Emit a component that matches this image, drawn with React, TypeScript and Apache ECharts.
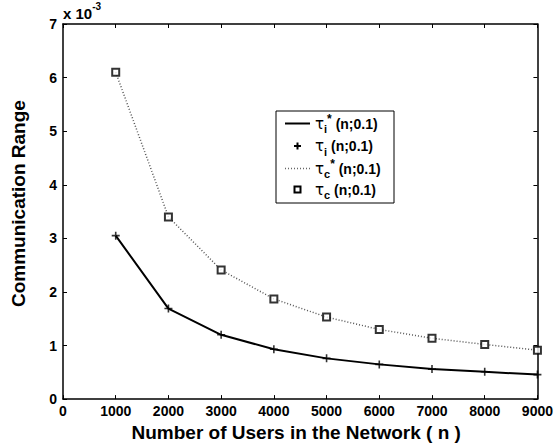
import React, { useEffect, useRef } from "react";
import * as echarts from "echarts";

// values in units of 1e-3
const users = [1000, 2000, 3000, 4000, 5000, 6000, 7000, 8000, 9000];
const tauIStar = [3.05, 1.69, 1.2, 0.93, 0.76, 0.648, 0.56, 0.51, 0.457];
const tauI = [3.05, 1.69, 1.2, 0.93, 0.76, 0.648, 0.56, 0.51, 0.457];
const tauCStar = [6.1, 3.4, 2.41, 1.87, 1.53, 1.3, 1.135, 1.02, 0.913];
const tauC = [6.1, 3.4, 2.41, 1.87, 1.53, 1.3, 1.135, 1.02, 0.913];
const legendLabels = [
  { sub: "i", star: true, rest: " (n;0.1)" },
  { sub: "i", star: false, rest: " (n;0.1)" },
  { sub: "c", star: true, rest: " (n;0.1)" },
  { sub: "c", star: false, rest: " (n;0.1)" },
];

const FONT = "'Liberation Sans', Arial, Helvetica, sans-serif";
const PLUS = "path://M4,0H6V4H10V6H6V10H4V6H0V4H4Z";

export default function App() {
  const ref = useRef<HTMLDivElement>(null);
  useEffect(() => {
    if (!ref.current) return;
    const chart = echarts.init(ref.current, null, { renderer: "svg" });
    const pair = (ys: number[]) => users.map((u, i) => [u, ys[i]]);
    const axisCommon = {
      min: 0,
      axisLine: { show: true, onZero: false, lineStyle: { color: "#000", width: 1.5 } },
      axisTick: { show: true, inside: true, length: 4, lineStyle: { color: "#000", width: 1 } },
      splitLine: { show: false },
    };
    const labelStyle = { color: "#000", fontFamily: FONT, fontWeight: "bold" as const, fontSize: 14 };
    const rowsY = [123.5, 146, 168.5, 189.5];
    const legendChildren: any[] = [
      { type: "rect", shape: { x: 276, y: 111, width: 118, height: 92 }, style: { fill: "#fff", stroke: "#000", lineWidth: 1 } },
      { type: "line", shape: { x1: 285, y1: rowsY[0], x2: 310, y2: rowsY[0] }, style: { stroke: "#000", lineWidth: 2 } },
      { type: "line", shape: { x1: 294, y1: rowsY[1], x2: 301, y2: rowsY[1] }, style: { stroke: "#000", lineWidth: 2 } },
      { type: "line", shape: { x1: 297.5, y1: rowsY[1] - 3.5, x2: 297.5, y2: rowsY[1] + 3.5 }, style: { stroke: "#000", lineWidth: 2 } },
      { type: "line", shape: { x1: 285, y1: rowsY[2], x2: 310, y2: rowsY[2] }, style: { stroke: "#666", lineWidth: 1.5, lineDash: [1, 2] } },
      { type: "rect", shape: { x: 294.5, y: rowsY[3] - 3, width: 6, height: 6 }, style: { fill: "#fff", stroke: "#000", lineWidth: 2 } },
    ];
    legendLabels.forEach((l, i) => {
      legendChildren.push({
        type: "text",
        style: {
          x: 315,
          y: rowsY[i],
          verticalAlign: "middle",
          text: `{t|τ}{s|${l.sub}}` + (l.star ? "{p|*}" : "") + `{n|${l.rest}}`,
          rich: {
            t: { fontSize: 15, fontFamily: "'DejaVu Sans', sans-serif", fill: "#000", lineHeight: 22, verticalAlign: "middle" },
            s: { fontSize: 11, fontFamily: FONT, fontWeight: "bold", fill: "#000", lineHeight: 22, verticalAlign: "bottom" },
            p: { fontSize: 12, fontFamily: FONT, fontWeight: "bold", fill: "#000", lineHeight: 22, verticalAlign: "top" },
            n: { fontSize: 14, fontFamily: FONT, fontWeight: "bold", fill: "#000", lineHeight: 22, verticalAlign: "middle" },
          },
        },
      });
    });

    chart.setOption({
      animation: false,
      backgroundColor: "#fff",
      grid: { left: 63, right: 15.5, top: 24, bottom: 47, containLabel: false },
      xAxis: [
        {
          ...axisCommon,
          type: "value",
          max: 9000,
          interval: 1000,
          position: "bottom",
          axisLabel: { ...labelStyle, margin: 5, formatter: (v: number) => String(v) },
          name: "Number of Users in the Network ( n )",
          nameLocation: "middle",
          nameGap: 20,
          nameTextStyle: { ...labelStyle, fontSize: 19, padding: [0, 8, 0, 0] },
        },
        {
          ...axisCommon,
          type: "value",
          max: 9000,
          interval: 1000,
          position: "top",
          axisLabel: { show: false },
        },
      ],
      yAxis: [
        {
          ...axisCommon,
          type: "value",
          max: 7,
          interval: 1,
          position: "left",
          axisLabel: { ...labelStyle, margin: 6 },
          name: "Communication Range",
          nameLocation: "middle",
          nameGap: 35,
          nameTextStyle: { ...labelStyle, fontSize: 19, padding: [0, 0, 0, 16] },
        },
        {
          ...axisCommon,
          type: "value",
          max: 7,
          interval: 1,
          position: "right",
          axisLabel: { show: false },
        },
      ],
      graphic: [
        {
          type: "text",
          style: {
            x: 63,
            y: 1,
            verticalAlign: "top",
            text: "{a|x 10}{b|-3}",
            rich: {
              a: { fontSize: 15, fontFamily: FONT, fontWeight: "bold", fill: "#000", lineHeight: 20, verticalAlign: "bottom" },
              b: { fontSize: 10, fontFamily: FONT, fontWeight: "bold", fill: "#000", lineHeight: 20, verticalAlign: "top" },
            },
          },
        },
        { type: "group", children: legendChildren },
      ],
      series: [
        {
          name: "τi* (n;0.1)",
          type: "line",
          data: pair(tauIStar),
          showSymbol: false,
          symbol: "none",
          lineStyle: { color: "#000", width: 2 },
          z: 2,
        },
        {
          name: "τi (n;0.1)",
          type: "scatter",
          data: pair(tauI),
          symbol: PLUS,
          symbolSize: 8,
          itemStyle: { color: "#000" },
          z: 3,
        },
        {
          name: "τc* (n;0.1)",
          type: "line",
          data: pair(tauCStar),
          showSymbol: false,
          symbol: "none",
          lineStyle: { color: "#555", width: 1.5, type: [1, 2] },
          z: 2,
        },
        {
          name: "τc (n;0.1)",
          type: "scatter",
          data: pair(tauC),
          symbol: "rect",
          symbolSize: 7,
          itemStyle: { color: "#fff", borderColor: "#000", borderWidth: 2 },
          z: 3,
        },
      ],
    });
    return () => chart.dispose();
  }, []);
  return <div ref={ref} style={{ width: 556, height: 447, position: "absolute", left: 0, top: 0 }} />;
}
